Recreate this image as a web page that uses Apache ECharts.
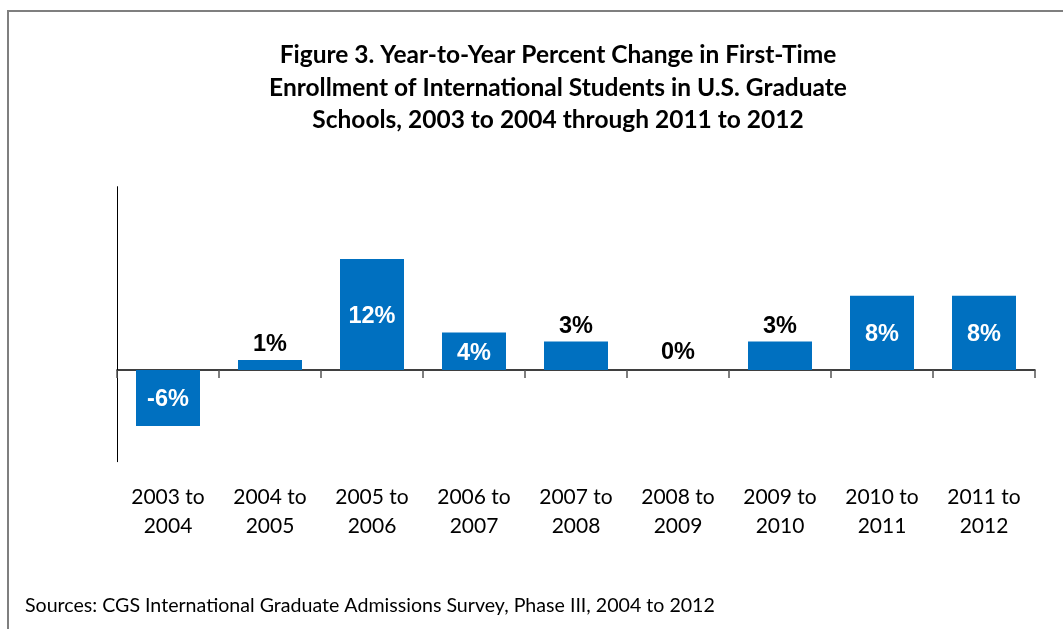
<!DOCTYPE html>
<html>
<head>
<meta charset="utf-8">
<script src="https://cdn.jsdelivr.net/npm/echarts@6/dist/echarts.min.js"></script>
<style>
html,body{margin:0;padding:0;background:#fff;}
#chart{width:1063px;height:629px;}
</style>
</head>
<body>
<div id="chart"></div>
<script>
const categories = ['2003 to\n2004','2004 to\n2005','2005 to\n2006','2006 to\n2007','2007 to\n2008','2008 to\n2009','2009 to\n2010','2010 to\n2011','2011 to\n2012'];
const percentChange = [-6.1, 1.1, 12.1, 4.1, 3.1, 0, 3.1, 8.1, 8.1];
const titleLines = ['Figure 3. Year-to-Year Percent Change in First-Time','Enrollment of International Students in U.S. Graduate','Schools, 2003 to 2004 through 2011 to 2012'];
const sourceText = 'Sources: CGS International Graduate Admissions Survey, Phase III, 2004 to 2012';

const chart = echarts.init(document.getElementById('chart'), null, {renderer:'canvas'});
const barData = percentChange.map(v => {
  const inside = Math.abs(v) >= 4;
  return {
    value: v,
    label: inside
      ? {position: 'inside', color: '#ffffff', offset: [0, 2]}
      : {position: 'top', color: '#000000', distance: v === 0 ? 6 : 3}
  };
});
chart.setOption({
  animation: false,
  backgroundColor: '#ffffff',
  grid: {left: 117, right: 28, top: 186.7, bottom: 167.3, containLabel: false},
  xAxis: [{
    type: 'category',
    data: categories,
    position: 'bottom',
    boundaryGap: true,
    axisLine: {show: true, onZero: true, lineStyle: {color: '#000', width: 1.5}},
    axisTick: {show: true, interval: 0, length: 8, lineStyle: {color: '#555', width: 1.5}},
    axisLabel: {show: false}
  }, {
    type: 'category',
    data: categories,
    position: 'bottom',
    axisLine: {show: false, onZero: false},
    axisTick: {show: false},
    axisLabel: {show: true, interval: 0, margin: 21, lineHeight: 29, fontFamily: 'Lato', fontSize: 21, color: '#000'}
  }],
  yAxis: {
    type: 'value',
    min: -10, max: 20, interval: 10,
    axisLine: {show: true, lineStyle: {color: '#000', width: 1}},
    axisTick: {show: false},
    axisLabel: {show: false},
    splitLine: {show: false}
  },
  series: [{
    type: 'bar',
    data: barData,
    barWidth: 64,
    itemStyle: {color: '#0070C0'},
    label: {
      show: true,
      fontFamily: 'Liberation Sans',
      fontWeight: 'bold',
      fontSize: 23.5,
      formatter: p => Math.round(p.value) + '%'
    }
  }],
  graphic: [
    {type: 'rect', shape: {x: 8, y: 11, width: 1100, height: 700}, style: {fill: 'none', stroke: '#7f7f7f', lineWidth: 2}, silent: true},
    {type: 'text', x: 558, y: 39, style: {text: titleLines.join('\n'), font: 'bold 24.5px Lato', fill: '#000', align: 'center', verticalAlign: 'top', lineHeight: 32.5}},
    {type: 'text', x: 25, y: 606, style: {text: sourceText, font: '19.6px Lato', fill: '#000', align: 'left', verticalAlign: 'middle'}}
  ]
});
</script>
</body>
</html>
